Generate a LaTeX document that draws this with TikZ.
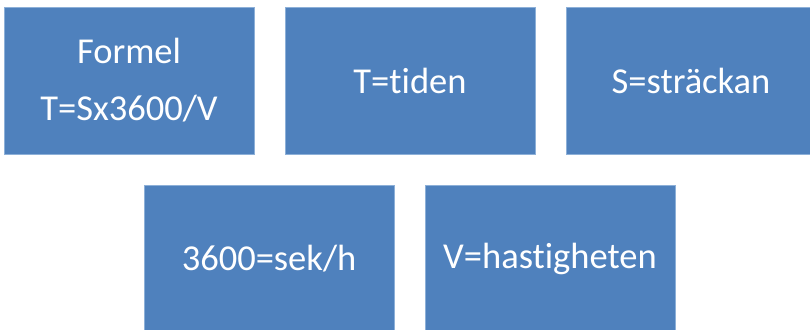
\documentclass[tikz,border=0pt]{standalone}
\usepackage{fontspec}
\setmainfont{Carlito}[Ligatures={NoCommon}]
\definecolor{boxfill}{HTML}{4F81BD}
\definecolor{boxline}{HTML}{8DB0D8}
\begin{document}
\begin{tikzpicture}[x=1bp,y=1bp,
  box/.style={fill=boxfill,draw=boxline,line width=0.8bp,minimum width=250bp,minimum height=147bp,inner sep=0pt,text=white,align=center,font=\fontsize{36.5bp}{57bp}\selectfont}]
\useasboundingbox (0,0) rectangle (810,329);
\begin{scope}
\clip (0,0) rectangle (810,329);
\node[box] (f) at (129,248.5) {Formel\\T=Sx3600/V};
\node[box] (t) at (410,248.5) {T=tiden};
\node[box] (s) at (691,248.5) {S=sträckan};
\node[box] (k) at (269,70.5) {3600=sek/h};
\node[box] (v) at (550,70.5) {V=hastigheten};
\end{scope}
\end{tikzpicture}
\end{document}
